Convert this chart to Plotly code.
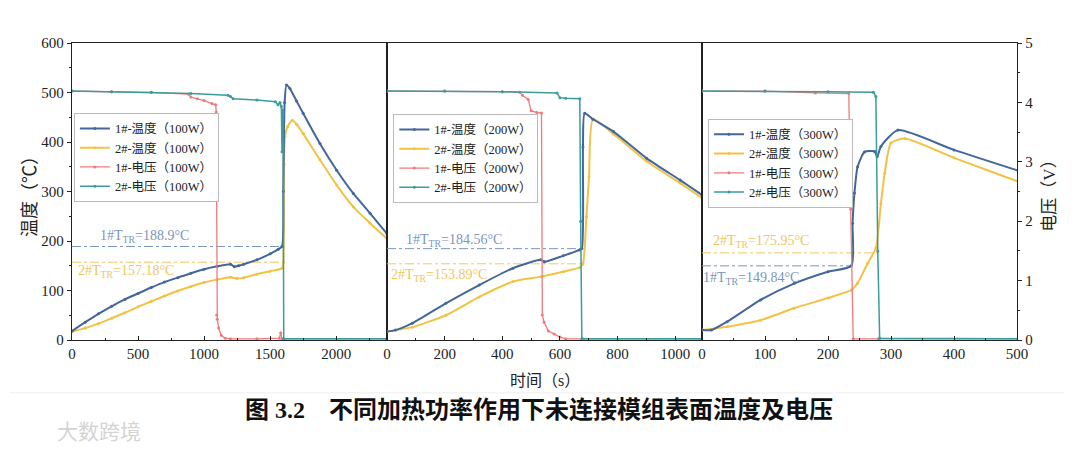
import plotly.graph_objects as go

# ---------------- data ----------------
# Panel 1: 100W
t1_100 = [0, 100, 200, 300, 400, 500, 600, 700, 800, 900, 1000, 1100, 1200, 1230, 1260, 1300, 1400, 1500, 1560, 1590,
          1600, 1610, 1624, 1650, 1700, 1750, 1877, 2004, 2130, 2257, 2384]
T1_100 = [18, 36, 53, 68, 82, 94, 106, 117, 126, 135, 143, 149, 153, 148, 150, 153, 162, 174, 183, 189,
          300, 480, 515, 508, 483, 458, 397, 343, 296, 256, 215]
t2_100 = [0, 100, 200, 300, 400, 500, 600, 700, 800, 900, 1000, 1100, 1200, 1250, 1300, 1400, 1500, 1590,
          1600, 1605, 1612, 1632, 1669, 1700, 1750, 1877, 2004, 2130, 2257, 2384]
T2_100 = [17, 24, 33, 44, 55, 67, 78, 89, 99, 108, 116, 122, 127, 124, 126, 133, 139, 145,
          157, 355, 411, 431, 444, 436, 417, 364, 313, 269, 236, 205]
tv1_100 = [0, 300, 600, 880, 900, 950, 1000, 1060, 1088, 1092, 1095, 1100, 1110, 1130, 1160, 1200, 1400, 1570, 1580,
           1590, 1600, 2384]
V1_100 = [4.19, 4.18, 4.17, 4.14, 4.09, 4.06, 4.03, 3.98, 3.96, 3.84, 0.42, 0.35, 0.2, 0.08, 0.03, 0.02, 0.02, 0.03, 0.12,
          0.02, 0.02, 0.02]
tv2_100 = [0, 300, 600, 900, 1180, 1200, 1220, 1400, 1540, 1560, 1575, 1585, 1590, 1594, 1598, 1603, 2384]
V2_100 = [4.19, 4.18, 4.17, 4.15, 4.12, 4.10, 4.06, 4.04, 4.01, 3.96, 4.0, 3.93, 3.17, 3.87, 3.8, 0.02, 0.02]

# Panel 2: 200W
t1_200 = [0, 30, 88, 204, 320, 437, 534, 546, 611, 668, 676, 680, 686, 715, 786, 901, 1017, 1093]
T1_200 = [17, 20, 34, 74, 111, 145, 162, 158, 170, 182, 184.6, 390, 458, 446, 421, 367, 323, 293]
t2_200 = [0, 88, 204, 320, 437, 534, 611, 670, 680, 692, 701, 715, 786, 901, 1017, 1093]
T2_200 = [17, 26, 50, 87, 118, 128, 138, 147, 153.9, 249, 330, 446, 416, 361, 317, 287]
tv1_200 = [0, 200, 400, 460, 470, 490, 500, 520, 536, 539, 545, 560, 580, 600, 620, 680, 1093]
V1_200 = [4.19, 4.19, 4.18, 4.17, 4.12, 4.05, 3.86, 3.83, 3.82, 0.42, 0.3, 0.15, 0.1, 0.05, 0.02, 0.02, 0.02]
tv2_200 = [0, 200, 400, 590, 600, 620, 669, 672, 676, 1093]
V2_200 = [4.19, 4.19, 4.18, 4.16, 4.08, 4.07, 4.06, 2.0, 0.02, 0.02]

# Panel 3: 300W
t1_300 = [0, 15, 40, 93, 146, 200, 237, 239, 242, 247, 258, 274, 278, 284, 311, 400, 502]
T1_300 = [20, 20, 37, 81, 114, 138, 150, 236, 297, 350, 380, 381, 370, 391, 424, 384, 342]
t2_300 = [0, 40, 93, 146, 200, 237, 247, 263, 276, 284, 290, 300, 322, 400, 502]
T2_300 = [20, 27, 40, 64, 85, 101, 115, 155, 186, 276, 337, 398, 407, 368, 320]
tv1_300 = [0, 100, 180, 233, 236, 240, 280, 502]
V1_300 = [4.19, 4.19, 4.16, 4.15, 2.2, 0.02, 0.02, 0.02]
tv2_300 = [0, 100, 200, 272, 276, 279, 282, 502]
V2_300 = [4.19, 4.19, 4.18, 4.17, 4.1, 1.5, 0.03, 0.02]

# Thermal-runaway trigger temperatures and extents
ttr1 = [188.9, 184.56, 149.84]
ttr2 = [157.18, 153.89, 175.95]
ttr1_end = [1590, 676, 237]
ttr2_end = [1612, 682, 282]
ttr1_txt = ["188.9", "184.56", "149.84"]
ttr2_txt = ["157.18", "153.89", "175.95"]
powers = ["100W", "200W", "300W"]
xmax = [2385, 1093, 500]

C_BLUE = "#43679a"
C_YEL = "#f2c244"
C_RED = "#f07a7a"
C_TEAL = "#3a9c9c"
C_BLUE_L = "#7b96be"
C_YEL_L = "#f1c660"

FONT = "Liberation Serif, Noto Sans CJK SC, serif"

fig = go.Figure()

panels = [
    (t1_100, T1_100, t2_100, T2_100, tv1_100, V1_100, tv2_100, V2_100),
    (t1_200, T1_200, t2_200, T2_200, tv1_200, V1_200, tv2_200, V2_200),
    (t1_300, T1_300, t2_300, T2_300, tv1_300, V1_300, tv2_300, V2_300),
]

for i, (ta, Ta, tb, Tb, tva, Va, tvb, Vb) in enumerate(panels):
    xa = "x" if i == 0 else f"x{i+1}"
    ya = "y" if i == 0 else f"y{i+1}"
    yv = f"y{i+4}"
    lg = "legend" if i == 0 else f"legend{i+1}"
    p = powers[i]
    # TTR reference lines
    fig.add_trace(go.Scatter(x=[0, ttr1_end[i]], y=[ttr1[i], ttr1[i]], mode="lines",
                             line=dict(color=C_BLUE_L, width=1, dash="dashdot"),
                             xaxis=xa, yaxis=ya, showlegend=False, hoverinfo="skip"))
    fig.add_trace(go.Scatter(x=[0, ttr2_end[i]], y=[ttr2[i], ttr2[i]], mode="lines",
                             line=dict(color=C_YEL_L, width=1, dash="dashdot"),
                             xaxis=xa, yaxis=ya, showlegend=False, hoverinfo="skip"))
    # voltages
    fig.add_trace(go.Scatter(x=tva, y=Va, mode="lines+markers", name=f"1#-电压（{p}）",
                             line=dict(color=C_RED, width=1.3), marker=dict(size=3, color=C_RED),
                             xaxis=xa, yaxis=yv, legend=lg, legendrank=3))
    fig.add_trace(go.Scatter(x=tvb, y=Vb, mode="lines+markers", name=f"2#-电压（{p}）",
                             line=dict(color=C_TEAL, width=1.5), marker=dict(size=3, color=C_TEAL),
                             xaxis=xa, yaxis=yv, legend=lg, legendrank=4))
    # temperatures
    fig.add_trace(go.Scatter(x=tb, y=Tb, mode="lines+markers", name=f"2#-温度（{p}）",
                             line=dict(color=C_YEL, width=2, shape="spline", smoothing=0.6),
                             marker=dict(size=3, color=C_YEL),
                             xaxis=xa, yaxis=ya, legend=lg, legendrank=2))
    fig.add_trace(go.Scatter(x=ta, y=Ta, mode="lines+markers", name=f"1#-温度（{p}）",
                             line=dict(color=C_BLUE, width=2, shape="spline", smoothing=0.6),
                             marker=dict(size=3, color=C_BLUE),
                             xaxis=xa, yaxis=ya, legend=lg, legendrank=1))

# annotation positions (data coords) for TTR labels
lab1_pos = [(547, 210), (234, 202), (78, 125)]
lab2_pos = [(410, 139), (180, 131), (94, 198)]
annots = []
for i in range(3):
    xa = "x" if i == 0 else f"x{i+1}"
    ya = "y" if i == 0 else f"y{i+1}"
    annots.append(dict(x=lab1_pos[i][0], y=lab1_pos[i][1], xref=xa, yref=ya, showarrow=False, xanchor="center",
                       text=f"1#T<sub>TR</sub>={ttr1_txt[i]}°C",
                       font=dict(family=FONT, size=14, color=C_BLUE_L)))
    annots.append(dict(x=lab2_pos[i][0], y=lab2_pos[i][1], xref=xa, yref=ya, showarrow=False, xanchor="center",
                       text=f"2#T<sub>TR</sub>={ttr2_txt[i]}°C",
                       font=dict(family=FONT, size=14, color=C_YEL_L)))

annots += [
    dict(x=0.501, y=-0.135, xref="paper", yref="paper", showarrow=False, text="时间（s）",
         xanchor="center", yanchor="middle", font=dict(family=FONT, size=16, color="#222")),
    dict(x=-0.045, y=0.5, xref="paper", yref="paper", showarrow=False, text="温度（℃）", textangle=-90,
         xanchor="center", yanchor="middle", font=dict(family=FONT, size=18, color="#222")),
    dict(x=1.034, y=0.5, xref="paper", yref="paper", showarrow=False, text="电压（V）", textangle=-90,
         xanchor="center", yanchor="middle", font=dict(family=FONT, size=17, color="#222")),
    dict(x=0.494, y=-0.236, xref="paper", yref="paper", showarrow=False, xanchor="center", yanchor="middle",
         text="<b>图 3.2　不同加热功率作用下未连接模组表面温度及电压</b>",
         font=dict(family=FONT, size=24, color="#111")),
    dict(x=0.029, y=-0.303, xref="paper", yref="paper", showarrow=False, text="大数跨境",
         xanchor="center", yanchor="middle",
         font=dict(family="Noto Sans CJK SC", size=21, color="#d4d4d4")),
]

axis_common = dict(showline=True, linecolor="#222", linewidth=1.3, mirror=True, zeroline=False,
                   showgrid=False, tickfont=dict(family=FONT, size=15, color="#222"))

doms = [[0, 1/3], [1/3, 2/3], [2/3, 1]]
dticks = [500, 200, 100]
layout = dict(
    width=1072, height=441,
    margin=dict(l=64, r=63, t=35, b=109),
    paper_bgcolor="white", plot_bgcolor="white",
    annotations=annots,
    shapes=[dict(type="line", xref="paper", yref="paper", x0=-0.066, x1=1.05, y0=-0.178, y1=-0.178,
                 line=dict(color="#eeeeee", width=1))],
)
for i in range(3):
    key = "xaxis" if i == 0 else f"xaxis{i+1}"
    layout[key] = dict(axis_common, domain=doms[i], range=[0, xmax[i]], dtick=dticks[i], tick0=0,
                       ticks="inside", ticklen=4, tickcolor="#222",
                       minor=dict(ticks="inside", ticklen=2, dtick=dticks[i] / 2, tickcolor="#222"),
                       anchor="y" if i == 0 else f"y{i+1}")
    ykey = "yaxis" if i == 0 else f"yaxis{i+1}"
    yd = dict(axis_common, range=[0, 600], dtick=100, anchor="x" if i == 0 else f"x{i+1}")
    if i == 0:
        yd.update(ticks="outside", ticklen=4, tickcolor="#222",
                  minor=dict(ticks="outside", ticklen=2, dtick=50, tickcolor="#222"))
    else:
        yd.update(showticklabels=False, ticks="")
    layout[ykey] = yd
    vkey = f"yaxis{i+4}"
    ov = "y" if i == 0 else f"y{i+1}"
    if i < 2:
        layout[vkey] = dict(overlaying=ov, range=[0, 5], visible=False, anchor="x" if i == 0 else f"x{i+1}")
    else:
        layout[vkey] = dict(overlaying=ov, range=[0, 5], side="right", anchor="x3", dtick=1,
                            showline=True, linecolor="#222", linewidth=1.3, showgrid=False, zeroline=False,
                            ticks="outside", ticklen=4, tickcolor="#222",
                            minor=dict(ticks="outside", ticklen=2, dtick=0.5, tickcolor="#222"),
                            tickfont=dict(family=FONT, size=15, color="#222"))

leg_common = dict(xanchor="left", yanchor="top", bgcolor="white", bordercolor="#bbbbbb", borderwidth=1,
                  font=dict(family=FONT, size=12.5, color="#222"), itemwidth=30, traceorder="normal",
                  tracegroupgap=0)
layout["legend"] = dict(leg_common, x=0.002, y=0.765)
layout["legend2"] = dict(leg_common, x=0.340, y=0.761)
layout["legend3"] = dict(leg_common, x=0.673, y=0.745)

fig.update_layout(**layout)
fig.write_html("out.html")
